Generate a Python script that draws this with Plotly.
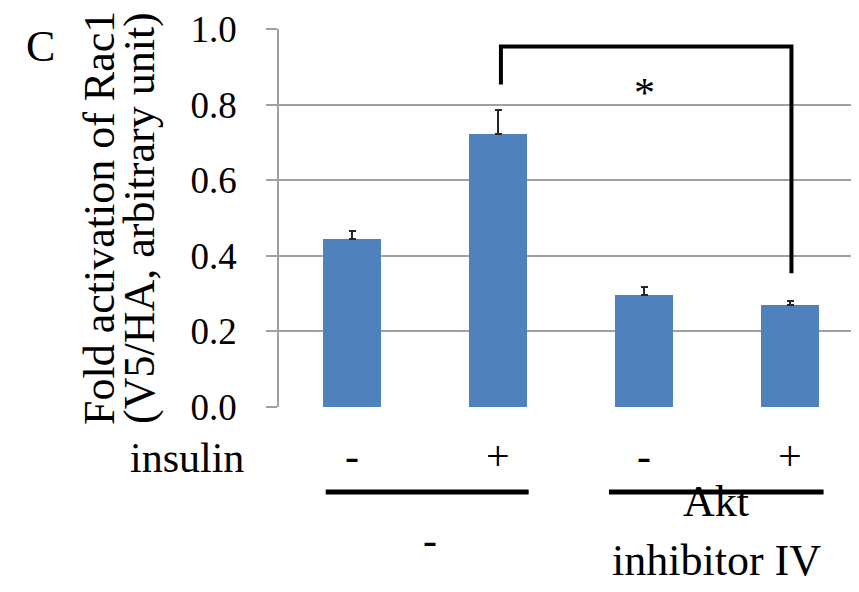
import plotly.graph_objects as go

# ---- data ----
positions = [0, 1, 2, 3]
insulin_labels = ["-", "+", "-", "+"]
values = [0.444, 0.723, 0.297, 0.269]
errors = [0.021, 0.062, 0.020, 0.011]
ytick_vals = [0.0, 0.2, 0.4, 0.6, 0.8, 1.0]
ytick_text = ["0.0", "0.2", "0.4", "0.6", "0.8", "1.0"]
group_labels = ["-", "Akt", "inhibitor IV"]
group_spans = [(-0.18, 1.21), (1.76, 3.23)]
bracket_x = [1.02, 1.02, 3.01, 3.01]
bracket_y = [0.853, 0.954, 0.954, 0.354]
sig_label = "*"

FONT = "Liberation Serif"
OFF = 8  # page body margin
W, H = 859, 592
L, T, B = 279 - OFF, 29 - OFF, 185 + OFF
plot_h = H - T - B

def py(pix):
    # reference pixel y -> paper y
    return (H - B - (pix - OFF)) / plot_h

def px(pix):
    return (pix - OFF - L) / (W - L)

fig = go.Figure()
fig.add_trace(go.Bar(
    x=positions, y=values, width=0.397,
    marker=dict(color="#4F81BD", line=dict(width=0)),
    error_y=dict(type="data", symmetric=False, array=errors,
                 arrayminus=[0] * len(errors), color="#262626",
                 thickness=2, width=3.5),
))
fig.add_trace(go.Scatter(
    x=bracket_x, y=bracket_y, mode="lines",
    line=dict(color="black", width=4), hoverinfo="skip",
))

xmax = -0.5 + (W - L) / 146.0
fig.update_layout(
    width=W, height=H,
    margin=dict(l=L, r=0, t=T, b=B),
    paper_bgcolor="white", plot_bgcolor="white",
    showlegend=False,
    font=dict(family=FONT, color="black", size=40),
    bargap=0,
)
fig.update_xaxes(range=[-0.5, xmax], showticklabels=False, showgrid=False,
                 zeroline=False, showline=False, ticks="")
fig.update_yaxes(range=[0, 1], tickvals=ytick_vals, ticktext=ytick_text,
                 showgrid=True, gridcolor="#A0A0A0", gridwidth=1.5,
                 showline=True, linecolor="#A0A0A0", linewidth=1.5,
                 ticks="outside", ticklen=11, tickcolor="#A0A0A0", tickwidth=1.5,
                 zeroline=False, ticklabelstandoff=22,
                 tickfont=dict(family=FONT, size=37, color="black"))

ann = []
# y-axis title (two lines)
ann.append(dict(text="Fold activation of Rac1", xref="paper", yref="paper",
                x=px(99), y=0.5, xanchor="center", yanchor="middle",
                textangle=-90, showarrow=False, font=dict(size=44)))
ann.append(dict(text="(V5/HA, arbitrary unit)", xref="paper", yref="paper",
                x=px(139), y=0.5, xanchor="center", yanchor="middle",
                textangle=-90, showarrow=False, font=dict(size=44)))
# panel letter
ann.append(dict(text="C", xref="paper", yref="paper", x=px(40), y=py(46),
                xanchor="center", yanchor="middle", showarrow=False,
                font=dict(size=44)))
# insulin row
ann.append(dict(text="insulin", xref="paper", yref="paper", x=px(246), y=py(458),
                xanchor="right", yanchor="middle", showarrow=False,
                font=dict(size=42)))
for xp, lab in zip(positions, insulin_labels):
    ann.append(dict(text=lab, xref="x", yref="paper", x=xp, y=py(456),
                    xanchor="center", yanchor="middle", showarrow=False,
                    font=dict(size=42)))
# group labels
ann.append(dict(text=group_labels[0], xref="x", yref="paper",
                x=(group_spans[0][0] + group_spans[0][1]) / 2 + 0.02, y=py(540),
                xanchor="center", yanchor="middle", showarrow=False,
                font=dict(size=42)))
gx = (group_spans[1][0] + group_spans[1][1]) / 2
ann.append(dict(text=group_labels[1], xref="x", yref="paper", x=gx, y=py(501),
                xanchor="center", yanchor="middle", showarrow=False,
                font=dict(size=44)))
ann.append(dict(text=group_labels[2], xref="x", yref="paper", x=gx, y=py(560),
                xanchor="center", yanchor="middle", showarrow=False,
                font=dict(size=44)))
# significance
ann.append(dict(text=sig_label, xref="x", yref="y", x=2.0, y=0.83,
                xanchor="center", yanchor="middle", showarrow=False,
                font=dict(size=42)))
fig.update_layout(annotations=ann)

shapes = []
for x0, x1 in group_spans:
    shapes.append(dict(type="line", xref="x", yref="paper", x0=x0, x1=x1,
                       y0=py(492), y1=py(492), line=dict(color="black", width=5)))
fig.update_layout(shapes=shapes)

fig.write_html("out.html")
